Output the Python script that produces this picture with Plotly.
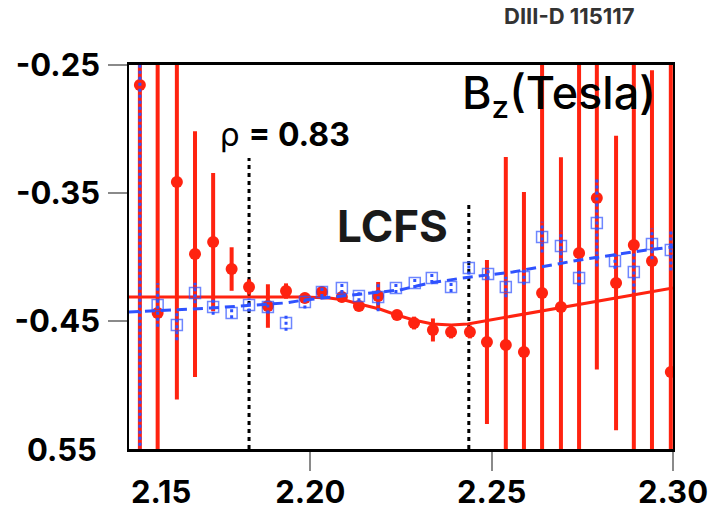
import plotly.graph_objects as go

# ---- measured Bz (red filled circles, symmetric errors) ----
meas_r = [2.1530, 2.1579, 2.1632, 2.1682, 2.1732, 2.1783, 2.1831, 2.1883,
          2.1933, 2.1985, 2.2032, 2.2087, 2.2134, 2.2187, 2.2239, 2.2286,
          2.2338, 2.2388, 2.2440, 2.2487, 2.2539, 2.2589, 2.2639, 2.2691,
          2.2741, 2.2790, 2.2843, 2.2892, 2.2942, 2.2994]
meas_bz = [-0.2656, -0.4438, -0.3414, -0.3977, -0.3883, -0.4094, -0.4234, -0.4383,
           -0.4266, -0.4320, -0.4273, -0.4313, -0.4383, -0.4305, -0.4453, -0.4516,
           -0.4570, -0.4586, -0.4586, -0.4664, -0.4688, -0.4742, -0.4281, -0.4391,
           -0.3969, -0.3539, -0.4203, -0.3906, -0.4031, -0.4898]
meas_err = [0.320, 0.220, 0.170, 0.096, 0.054, 0.017, 0.006, 0.017,
            0.006, 0.004, 0.004, 0.004, 0.004, 0.011, 0.004, 0.005,
            0.009, 0.005, 0.005, 0.064, 0.147, 0.125, 0.200, 0.117,
            0.200, 0.134, 0.115, 0.200, 0.149, 0.250]

# ---- fitted profile through the measured points (solid red) ----
fit_r = [2.1500, 2.1983, 2.2052, 2.2094, 2.2135, 2.2191, 2.2238, 2.2285,
         2.2337, 2.2389, 2.2434, 2.3000]
fit_bz = [-0.4313, -0.4313, -0.4320, -0.4336, -0.4367, -0.4406, -0.4453, -0.4492,
          -0.4523, -0.4531, -0.4523, -0.4242]

# ---- reconstructed Bz (blue open squares, dotted errors) ----
# the innermost channel only carries its error bar, no symbol
recon_r = [2.1530, 2.1579, 2.1632, 2.1682, 2.1732, 2.1783, 2.1831, 2.1883,
           2.1933, 2.1985, 2.2032, 2.2087, 2.2134, 2.2187, 2.2236, 2.2288,
           2.2335, 2.2388, 2.2437, 2.2490, 2.2539, 2.2589, 2.2639, 2.2691,
           2.2741, 2.2790, 2.2840, 2.2892, 2.2942, 2.2994]
recon_bz = [-0.4430, -0.4375, -0.4531, -0.4281, -0.4391, -0.4438, -0.4375, -0.4391,
            -0.4516, -0.4352, -0.4273, -0.4242, -0.4305, -0.4313, -0.4242, -0.4203,
            -0.4164, -0.4234, -0.4086, -0.4133, -0.4234, -0.4156, -0.3844, -0.3914,
            -0.4164, -0.3734, -0.4031, -0.4117, -0.3898, -0.3945]
recon_err = [0.320, 0.017, 0.012, 0.008, 0.006, 0.004, 0.005, 0.005,
             0.006, 0.005, 0.004, 0.004, 0.004, 0.011, 0.004, 0.004,
             0.004, 0.004, 0.005, 0.004, 0.008, 0.006, 0.012, 0.012,
             0.006, 0.034, 0.006, 0.016, 0.012, 0.016]
recon_symbol_shown = [False] + [True] * 29

# ---- smooth reconstruction curve (blue dashed) ----
curve_r = [2.1500, 2.1729, 2.1931, 2.1983, 2.2246, 2.2329, 2.2420, 2.2558,
           2.2743, 2.2928, 2.3000]
curve_bz = [-0.4430, -0.4398, -0.4359, -0.4336, -0.4258, -0.4203, -0.4164, -0.4117,
            -0.4023, -0.3945, -0.3922]

# ---- reference radii ----
rho_r = 2.1831
rho_label = "ρ <b>= 0.83</b>"
lcfs_r = 2.2437
marker_top = [-0.3226, -0.3594]   # upper ends of the two vertical markers

# ---- axis ticks ----
x_tick_vals = [2.20, 2.25, 2.30]
x_tick_text = ["2.20", "2.25", "2.30"]
y_tick_vals = [-0.45, -0.35, -0.25]
y_tick_text = ["-0.45", "-0.35", "-0.25"]
x_edge_val, x_edge_text = 2.1588, "2.15"
y_edge_val, y_edge_text = -0.55, "0.55"

RED = "#ff2310"
BLUE = "#2f52ff"
FONT = "Inter"
X_RANGE = [2.15, 2.30]
Y_RANGE = [-0.55, -0.25]

fig = go.Figure()

# vertical dotted markers at rho = 0.83 and at the LCFS (drawn underneath)
for r, top in zip([rho_r, lcfs_r], marker_top):
    fig.add_trace(go.Scatter(
        x=[r, r], y=[Y_RANGE[0], top], mode="lines",
        line=dict(color="black", width=3, dash="4px,4px"), showlegend=False,
    ))

# measured points with solid error bars
fig.add_trace(go.Scatter(
    x=meas_r, y=meas_bz, mode="markers",
    marker=dict(symbol="circle", size=12, color=RED),
    error_y=dict(type="data", array=meas_err, visible=True,
                 color=RED, thickness=4, width=0),
    showlegend=False,
))

# fit through the measured points
fig.add_trace(go.Scatter(
    x=fit_r, y=fit_bz, mode="lines",
    line=dict(color=RED, width=3), showlegend=False,
))

# dashed reconstruction curve
fig.add_trace(go.Scatter(
    x=curve_r, y=curve_bz, mode="lines",
    line=dict(color=BLUE, width=3, dash="10px,6px"), showlegend=False,
))

# dotted error bars of the reconstruction
bar_x, bar_y = [], []
for r, b, e in zip(recon_r, recon_bz, recon_err):
    bar_x += [r, r, None]
    bar_y += [b - e, b + e, None]
fig.add_trace(go.Scatter(
    x=bar_x, y=bar_y, mode="lines", connectgaps=False,
    line=dict(color=BLUE, width=3, dash="3px,3px"), showlegend=False,
))

# reconstruction points
fig.add_trace(go.Scatter(
    x=recon_r, y=recon_bz, mode="markers",
    marker=dict(symbol="square-open",
                size=[11 if s else 0 for s in recon_symbol_shown],
                color=BLUE, line=dict(width=1.5, color=BLUE)),
    showlegend=False,
))

tick_font = dict(family=FONT, size=31, color="black", weight="bold")

fig.update_layout(
    width=713, height=510,
    margin=dict(l=129, r=40, t=65, b=61, autoexpand=False),
    paper_bgcolor="white", plot_bgcolor="white",
    xaxis=dict(range=X_RANGE, tickvals=x_tick_vals, ticktext=x_tick_text,
               ticks="outside", ticklen=19, tickwidth=1.5, tickcolor="#8a8a8a",
               showline=True, linecolor="black", linewidth=2.5, mirror=True,
               showgrid=False, zeroline=False, tickfont=tick_font,
               ticklabelstandoff=-5, automargin=False),
    yaxis=dict(range=Y_RANGE, tickvals=y_tick_vals, ticktext=y_tick_text,
               ticks="outside", ticklen=19, tickwidth=1.5, tickcolor="#8a8a8a",
               showline=True, linecolor="black", linewidth=1.5, mirror=True,
               showgrid=False, zeroline=False, tickfont=tick_font,
               ticklabelstandoff=2, automargin=False),
    annotations=[
        dict(x=x_edge_val, xref="x", y=0, yref="paper", text=x_edge_text,
             showarrow=False, xanchor="center", yanchor="middle", yshift=-42,
             font=tick_font),
        dict(x=0, xref="paper", y=y_edge_val, yref="y", text=y_edge_text,
             showarrow=False, xanchor="right", yanchor="middle", xshift=-30,
             font=tick_font),
        dict(x=(569 - 129) / 544, xref="paper", y=(449 - 16) / 384, yref="paper",
             text="DIII-D 115117", showarrow=False, xanchor="center",
             yanchor="middle",
             font=dict(family=FONT, size=22, color="#333333", weight="bold")),
        dict(x=(460 - 129) / 544, xref="paper", y=(449 - 96) / 384, yref="paper",
             text="B<sub>z</sub>(Tesla)", showarrow=False, xanchor="left",
             yanchor="middle",
             font=dict(family=FONT, size=45, color="black", weight=500)),
        dict(x=(218 - 129) / 544, xref="paper", y=(449 - 134) / 384, yref="paper",
             text=rho_label, showarrow=False, xanchor="left", yanchor="middle",
             font=dict(family=FONT, size=32, color="black")),
        dict(x=(392 - 129) / 544, xref="paper", y=(449 - 226) / 384, yref="paper",
             text="LCFS", showarrow=False, xanchor="center", yanchor="middle",
             font=dict(family=FONT, size=44, color="#1a1a1a", weight="bold")),
    ],
)

fig.write_html("out.html")
